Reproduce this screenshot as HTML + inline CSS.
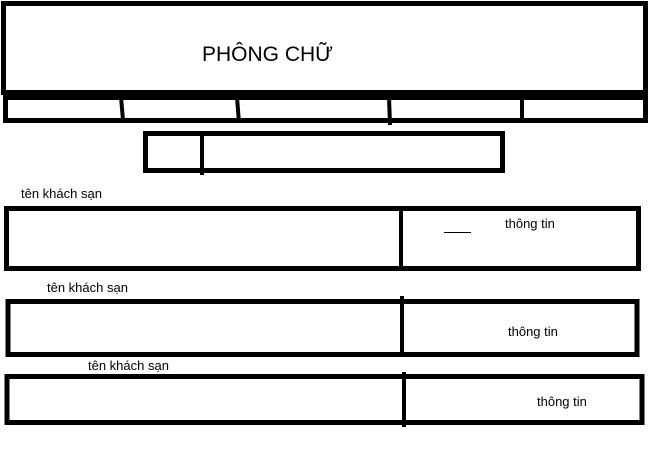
<!DOCTYPE html>
<html><head><meta charset="utf-8"><style>
html,body{margin:0;padding:0;background:#fff;width:649px;height:463px;overflow:hidden}
svg{display:block}
text{font-family:"Liberation Sans","DejaVu Sans",sans-serif;fill:#000}
</style></head><body>
<svg width="649" height="463" viewBox="0 0 649 463" xmlns="http://www.w3.org/2000/svg">
<g fill="none" stroke="#000" stroke-width="5">
<rect x="3.5" y="3.5" width="642" height="89"/>
<rect x="5.5" y="97.5" width="640" height="23"/>
<rect x="145.5" y="133.5" width="357" height="37"/>
<rect x="6.5" y="208.5" width="632" height="60"/>
<rect x="8" y="301.5" width="629" height="53"/>
<rect x="7" y="376.5" width="635" height="46"/>
</g>
<g stroke="#000" stroke-width="4" fill="none">
<line x1="121" y1="97" x2="123" y2="120"/>
<line x1="237" y1="97" x2="239" y2="123"/>
<line x1="389" y1="97" x2="390" y2="125"/>
<line x1="522" y1="97" x2="522" y2="123"/>
<line x1="202" y1="133" x2="202" y2="175"/>
<line x1="401" y1="208" x2="401" y2="270"/>
<line x1="402" y1="296" x2="402" y2="356"/>
<line x1="404" y1="372" x2="404" y2="427"/>
</g>
<line x1="444" y1="232.5" x2="471" y2="232.5" stroke="#000" stroke-width="1"/>
<text x="202" y="61" font-size="21">PHÔNG CHỮ</text>
<text x="21" y="198" font-size="13">tên khách sạn</text>
<text x="47" y="292" font-size="13">tên khách sạn</text>
<text x="88" y="370" font-size="13">tên khách sạn</text>
<text x="505" y="228" font-size="13">thông tin</text>
<text x="508" y="336" font-size="13">thông tin</text>
<text x="537" y="406" font-size="13">thông tin</text>
</svg>
</body></html>
